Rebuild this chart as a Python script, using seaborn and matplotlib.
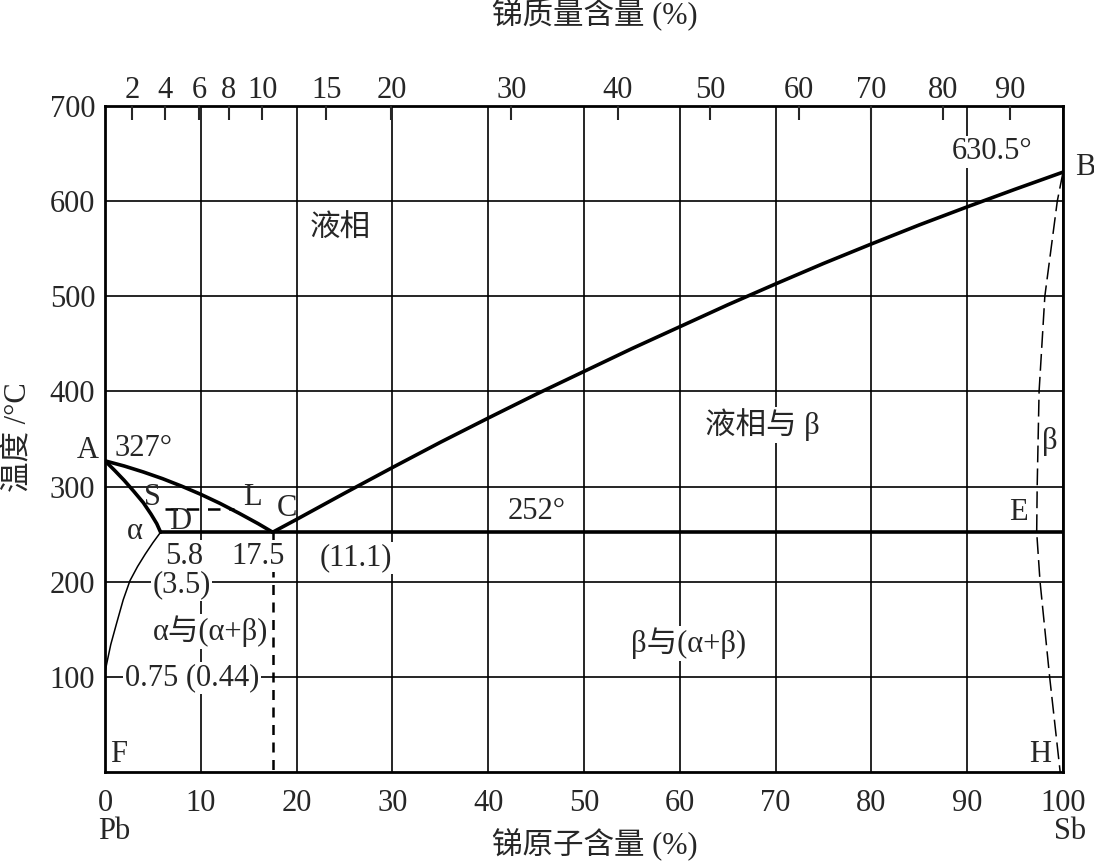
# Pb-Sb phase diagram (atomic % Sb on the bottom, mass % Sb on the top)
import numpy as np
import pandas as pd
import matplotlib
matplotlib.use("Agg")
import matplotlib.pyplot as plt
import seaborn as sns

# curves: x = atomic % Sb, t = temperature (°C)
liq_ac_x = [0, 2, 4, 6, 8, 10, 12, 14, 16, 17.5]
liq_ac_t = [327, 321.6, 315.3, 308.3, 300.4, 291.8, 282.3, 271.9, 260.9, 252]
liq_cb_x = [17.5, 20, 25, 30, 35, 40, 45, 50, 55, 60, 65, 70, 75, 80, 85, 90, 95, 100]
liq_cb_t = [252, 265.5, 293, 320, 346.5, 372, 397, 421, 445, 468, 491, 513, 534.5,
            555, 575, 594, 612.5, 630.5]
sol_ad_x = [0, 1, 2, 3, 4, 4.8, 5.4, 5.8]
sol_ad_t = [327, 317, 306.5, 295, 283, 271, 261, 252]
solv_df_x = [5.8, 5.0, 4.2, 3.4, 2.6, 1.9, 1.2, 0.6, 0.2, 0]
solv_df_t = [252, 241, 229, 216, 201, 181, 156, 134, 115, 105]
eut_x = [5.8, 100]
eut_t = [252, 252]
sl_x = [6.3, 13.5]
sl_t = [276, 276]
c_x = [17.5, 17.5]
c_t = [252, 0]
beta_x = [100, 99.4, 98.1, 97.5, 97.3, 97.25, 97.6, 98.6, 99.7]
beta_t = [630.5, 600, 500, 400, 300, 252, 200, 100, 0]

# axes
at_ticks = list(range(0, 101, 10))
t_ticks = list(range(100, 701, 100))
mass_labels = ['2', '4', '6', '8', '10', '15', '20', '30', '40', '50', '60', '70', '80', '90']
mass_pos = [2.8, 6.3, 9.8, 12.9, 16.4, 23.1, 29.9, 42.4, 53.5, 63.2, 72.4, 80.0, 87.5, 94.5]

sns.set_style("white")
plt.rcParams['font.family'] = ['Liberation Serif', 'Noto Sans CJK SC']

fig = plt.figure(figsize=(10.94, 8.61), dpi=100)
ax = fig.add_axes([0.096, 0.1034, 0.8757, 0.7735])

def curve(x, t, lw, ls='-'):
    df = pd.DataFrame({'x': x, 't': t})
    sns.lineplot(data=df, x='x', y='t', sort=False, estimator=None,
                 color='black', lw=lw, linestyle=ls, ax=ax, zorder=3)

curve(liq_ac_x, liq_ac_t, 2.6)
curve(liq_cb_x, liq_cb_t, 2.6)
curve(sol_ad_x, sol_ad_t, 2.6)
curve(eut_x, eut_t, 2.6)
curve(solv_df_x, solv_df_t, 1.1)
curve(sl_x, sl_t, 1.8, (0, (5, 3.5)))
curve(c_x, c_t, 1.8, (0, (4, 3)))
curve(beta_x, beta_t, 1.1, (0, (11, 4)))

ax.set_xlim(0, 100)
ax.set_ylim(0, 700)
ax.set_xticks(at_ticks)
ax.set_yticks(t_ticks)
ax.grid(True, color='black', lw=1.2, zorder=1)
ax.set_axisbelow(True)
ax.tick_params(axis='both', length=0, labelsize=22)
ax.tick_params(axis='x', pad=12)
ax.tick_params(axis='y', pad=7)
ax.set_xlabel('')
ax.set_ylabel('')
for s in ax.spines.values():
    s.set_linewidth(2)
    s.set_color('black')

top = ax.twiny()
top.set_xlim(0, 100)
top.set_xticks(mass_pos)
top.set_xticklabels(mass_labels)
top.tick_params(axis='x', direction='in', length=10, width=1.5, labelsize=22, pad=1)
for s in top.spines.values():
    s.set_visible(False)

wb = dict(facecolor='white', edgecolor='none', pad=1)
fs = 22
labels = [
    (-1.8, 338, 'A', None), (4.0, 340, '327°', None),
    (4.9, 288, 'S', None), (7.8, 263, 'D', None),
    (15.4, 289, 'L', None), (19.0, 277, 'C', None),
    (3.1, 253, 'α', None), (8.3, 227, '5.8', wb),
    (16.0, 227, '17.5', wb), (26.2, 225, '(11.1)', wb),
    (8.0, 197, '(3.5)', wb), (11.0, 148, 'α与(α+β)', wb),
    (9.1, 99, '0.75 (0.44)', wb), (1.4, 18, 'F', None),
    (24.5, 570, '液相', None), (68.6, 365, '液相与 β', wb),
    (45.0, 274, '252°', None), (60.9, 135, 'β与(α+β)', wb),
    (92.6, 652, '630.5°', wb), (102.3, 635, 'B', None),
    (98.6, 347, 'β', None), (95.3, 273, 'E', None),
    (97.6, 18, 'H', None), (1.0, -63, 'Pb', None), (100.7, -63, 'Sb', None),
]
for x, y, s, box in labels:
    ax.text(x, y, s, fontsize=fs, ha='center', va='center', bbox=box,
            zorder=4, clip_on=False)

fig.text(595 / 1094, 1 - 15 / 861, '锑质量含量 (%)', fontsize=22, ha='center', va='center')
fig.text(595 / 1094, 1 - 845 / 861, '锑原子含量 (%)', fontsize=22, ha='center', va='center')
fig.text(18 / 1094, 1 - 437 / 861, '温度 /°C', fontsize=22, ha='center', va='center', rotation=90)

fig.savefig('out.png', dpi=100)
